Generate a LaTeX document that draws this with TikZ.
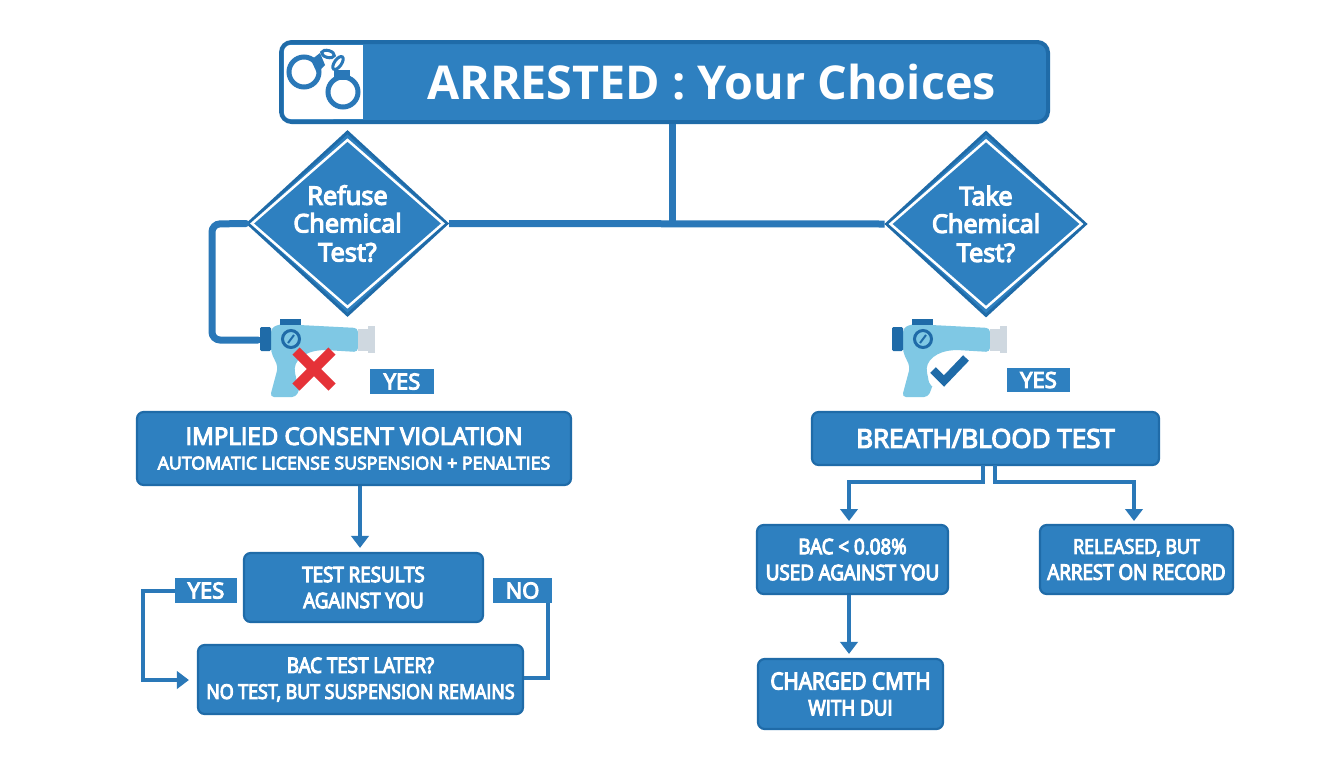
\documentclass[tikz,border=0pt]{standalone}
\usepackage{fontspec}
\setmainfont{Open Sans}
\newfontfamily\fnarrow{Open Sans}[FakeBold=5,FakeStretch=0.88]
\newfontfamily\fwide{Open Sans}[FakeBold=5]
\usetikzlibrary{shapes.geometric,arrows.meta}
\definecolor{bluefill}{HTML}{2E80C0}
\definecolor{blueedge}{HTML}{1F6BA8}
\definecolor{bluelink}{HTML}{2A78B8}
\definecolor{gunlight}{HTML}{7FC8E4}
\definecolor{gungrey}{HTML}{CFD8E0}
\definecolor{crossred}{HTML}{E53238}
\tikzset{
  flowbox/.style={draw=blueedge,fill=bluefill,rounded corners=5pt,line width=2.2*0.75pt,text=white,align=center,inner sep=0pt,font=\fnarrow\fontsize{16}{19.5}\selectfont},
  tag/.style={fill=bluefill,text=white,inner sep=0pt,font=\fwide\fontsize{16.5}{18}\selectfont},
  decision/.style={diamond,draw=blueedge,fill=bluefill,line width=3*0.75pt,text=white,align=center,inner sep=0pt,shape aspect=1.09,minimum width=200*0.75pt,minimum height=184*0.75pt,font=\fwide\fontsize{19}{21.75}\selectfont},
  link/.style={draw=bluelink,line width=4*0.75pt},
  mainlink/.style={draw=bluelink,line width=7*0.75pt,rounded corners=6pt},
  arrowlink/.style={link,shorten >=3pt,-{Triangle[width=13pt,length=9pt]}},
}
\newcommand{\bx}[7][flowbox]{\node[#1,minimum width={(#5-#3)*0.75pt},minimum height={(#6-#4)*0.75pt}] (#2) at ({(#3+#5)/2},{(#4+#6)/2}) {#7};}
\newcommand{\gunicon}[1]{%
\begin{scope}[shift={(#1,0)}]
  \fill[gunlight,rounded corners=3pt] (903,328) -- (912,324) -- (990,328) -- (990,352) -- (957,350) .. controls (938,351) and (924,360) .. (928,377) .. controls (929,383) and (932,387) .. (931,390) -- (928,397) -- (902,397) -- (910,367) -- (903,352) -- cycle;
  \fill[blueedge,rounded corners=1pt] (892,327) rectangle (903,351);
  \fill[blueedge] (912,319) rectangle (933,325);
  \fill[gungrey] (990,329) rectangle (1001,351);
  \fill[gungrey] (1000,326) rectangle (1007,353);
  \draw[blueedge,line width=3*0.75pt,fill=gunlight] (923,339) circle (8.5);
  \draw[blueedge,line width=2*0.75pt] (920,343) -- (926,335);
\end{scope}}
\begin{document}
\begin{tikzpicture}[x=0.75pt,y=-0.75pt]
\useasboundingbox[fill=white] (0,0) rectangle (1344,768);
% title
\bx[flowbox,rounded corners=8pt,line width=4*0.75pt,draw=blueedge]{title}{281}{42}{1048}{122}{}
\fill[white,rounded corners=5pt] (284,45) rectangle (340,119);
\fill[white] (325,45) rectangle (363,119);
\node[text=white,font=\fontsize{35}{40}\selectfont\bfseries] (titletext) at (711.5,82) {ARRESTED : Your Choices};
% handcuffs
\draw[bluelink,line width=5*0.75pt] (304,72) circle (15);
\draw[bluelink,line width=5*0.75pt] (343,92) circle (15);
\fill[bluelink] (311,60) -- (320,53) -- (325,65) -- (317,73) -- cycle;
\fill[bluelink] (334,70) rectangle (350,80);
\draw[bluelink,line width=3*0.75pt,rotate around={-15:(328,54)}] (328,54) ellipse (6.5 and 3.5);
\draw[bluelink,line width=3*0.75pt,rotate around={55:(338,63)}] (338,63) ellipse (7.5 and 3.5);
% decisions
\node[decision] (refuse) at (347.5,223.5) {\raisebox{-1pt}{Refuse}\\Chemical\\Test?};
\node[decision] (take) at (986,224) {\raisebox{-1pt}{Take}\\Chemical\\Test?};
\draw[white,line width=2.5*0.75pt] (347.5,140) -- (443,223.5) -- (347.5,307) -- (252,223.5) -- cycle;
\draw[white,line width=2.5*0.75pt] (986,140.5) -- (1081.5,224) -- (986,307.5) -- (890.5,224) -- cycle;
% main connectors
\coordinate (junction) at (672,224);
\coordinate (gunin) at (258,340);
\draw[mainlink] (title.south -| junction) -- (junction);
\draw[mainlink] (refuse.east) -- (take.west);
\draw[mainlink,line cap=round] (refuse.west) -- (212,224) -- (212,340) -- (gunin);
% guns
\gunicon{-632}
\gunicon{0}
\draw[crossred,line width=10*0.75pt] (296,351) -- (332,387);
\draw[crossred,line width=10*0.75pt] (332,351) -- (296,387);
\draw[blueedge,line width=8*0.75pt] (933,370) -- (944,381) -- (966,358);
% yes tags
\bx[tag]{yesa}{370}{369}{434}{394}{YES}
\bx[tag]{yesb}{1007}{368}{1070}{392}{YES}
% left branch
\bx{implied}{137}{412}{571}{485}{\raisebox{-2pt}{\fwide\fontsize{18}{22}\selectfont IMPLIED CONSENT VIOLATION}\\\raisebox{-1pt}{\fwide\fontsize{13.3}{18}\selectfont AUTOMATIC LICENSE SUSPENSION + PENALTIES}}
\bx{results}{244}{553}{483}{622}{TEST RESULTS\\AGAINST YOU}
\bx{later}{198}{645}{523}{714}{BAC TEST LATER?\\\fontsize{15.2}{19.5}\selectfont NO TEST, BUT SUSPENSION REMAINS}
\bx[tag]{yesc}{175}{578}{237}{603}{YES}
\bx[tag]{noc}{493}{578}{552}{603}{NO}
\coordinate (implout) at (360,485);
\draw[arrowlink] (implied.south -| implout) -- (results.north -| implout);
\draw[arrowlink,shorten >=6pt] (yesc.west) -- (143,590.5) -- (143,680) -- (later.west |- 0,680);
\coordinate (noleg) at (548,603);
\draw[link] (noc.south -| noleg) -- (548,678) -- (later.east |- 0,678);
% right branch
\bx{breath}{812}{412}{1159}{465}{\fwide\fontsize{19.5}{22}\selectfont BREATH/BLOOD TEST}
\bx{bac}{757}{525}{948}{594}{BAC < 0.08\%\\USED AGAINST YOU}
\bx{released}{1040}{525}{1233}{594}{\fontsize{15.2}{19.5}\selectfont RELEASED, BUT\\ARREST ON RECORD}
\bx{charged}{758}{659}{943}{729}{\fontsize{17.7}{22}\selectfont CHARGED CMTH\\WITH DUI}
\coordinate (forkl) at (983,465);
\coordinate (forkr) at (995,465);
\coordinate (bacin) at (849,525);
\coordinate (relin) at (1134,525);
\draw[arrowlink] (forkl) -- (983,482) -- (849,482) -- (bacin);
\draw[arrowlink] (forkr) -- (995,482) -- (1134,482) -- (relin);
\draw[arrowlink] (bac.south -| bacin) -- (charged.north -| bacin);
\end{tikzpicture}
\end{document}
